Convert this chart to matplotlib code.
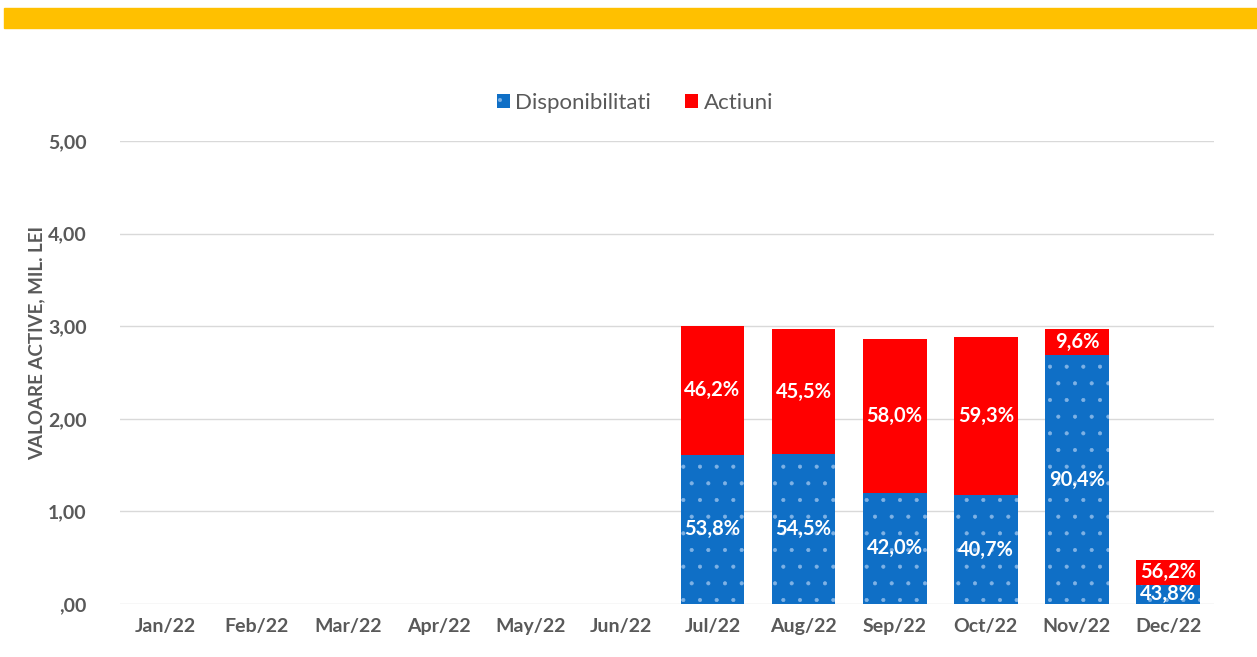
import matplotlib.pyplot as plt
import numpy as np
from matplotlib.patches import Rectangle

plt.rcParams['font.family'] = ['Lato', 'DejaVu Sans']
plt.rcParams['hatch.linewidth'] = 0.5

# Monthly asset values (mil. lei) and shares shown in bars
months = ['Jan/22', 'Feb/22', 'Mar/22', 'Apr/22', 'May/22', 'Jun/22',
          'Jul/22', 'Aug/22', 'Sep/22', 'Oct/22', 'Nov/22', 'Dec/22']
disponibilitati = [0, 0, 0, 0, 0, 0, 1.614, 1.619, 1.201, 1.172, 2.685, 0.208]
actiuni = [0, 0, 0, 0, 0, 0, 1.386, 1.351, 1.659, 1.708, 0.285, 0.267]
disp_pct = ['', '', '', '', '', '', '53,8%', '54,5%', '42,0%', '40,7%', '90,4%', '43,8%']
act_pct = ['', '', '', '', '', '', '46,2%', '45,5%', '58,0%', '59,3%', '9,6%', '56,2%']
yticks = [0, 1, 2, 3, 4, 5]
ytick_labels = [',00', '1,00', '2,00', '3,00', '4,00', '5,00']

blue = '#0F6FC6'
red = '#FF0000'
gray = '#595959'

fig = plt.figure(figsize=(12.57, 6.57), dpi=100)
fig.patches.append(Rectangle((4 / 1257, 1 - 28 / 657), 1, 20 / 657,
                             transform=fig.transFigure, color='#FFC000', zorder=0))

ax = fig.add_axes([0.0955, 0.0807, 0.870, 0.7047])
x = np.arange(len(months))
b1 = ax.bar(x, disponibilitati, 0.7, color=blue, edgecolor='#7FB2E5', linewidth=0,
            hatch='.', label='Disponibilitati', zorder=2)
b2 = ax.bar(x, actiuni, 0.7, bottom=disponibilitati, color=red, linewidth=0,
            label='Actiuni', zorder=2)

for i in range(len(months)):
    if disp_pct[i]:
        ax.text(x[i], disponibilitati[i] / 2, disp_pct[i], ha='center', va='center',
                color='white', fontsize=14.5, fontweight='bold', zorder=3)
    if act_pct[i]:
        ax.text(x[i], disponibilitati[i] + actiuni[i] / 2, act_pct[i], ha='center',
                va='center', color='white', fontsize=14.5, fontweight='bold', zorder=3)

ax.set_xlim(-0.5, 11.5)
ax.set_ylim(0, 5)
ax.set_yticks(yticks)
ax.set_yticklabels(ytick_labels)
ax.set_xticks(x)
ax.set_xticklabels(months)
ax.tick_params(length=0, labelsize=14, labelcolor=gray)
ax.xaxis.set_tick_params(pad=10)
ax.yaxis.set_tick_params(pad=24)
for lab in ax.get_xticklabels() + ax.get_yticklabels():
    lab.set_fontweight('bold')
ax.grid(axis='y', color='#D9D9D9', linewidth=1, zorder=0)
for s in ax.spines.values():
    s.set_visible(False)
ax.set_ylabel('VALOARE ACTIVE, MIL. LEI', fontsize=13.5, fontweight='bold', color=gray,
              labelpad=14)
ax.yaxis.set_label_coords(-0.068, 0.564)

fig.legend(handles=[b1, b2], loc='center', bbox_to_anchor=(0.505, 1 - 103 / 657), ncol=2,
           frameon=False, fontsize=16, labelcolor=gray, handlelength=0.6,
           handleheight=0.6, handletextpad=0.25, columnspacing=1.5)

plt.savefig('out.png', dpi=100)
